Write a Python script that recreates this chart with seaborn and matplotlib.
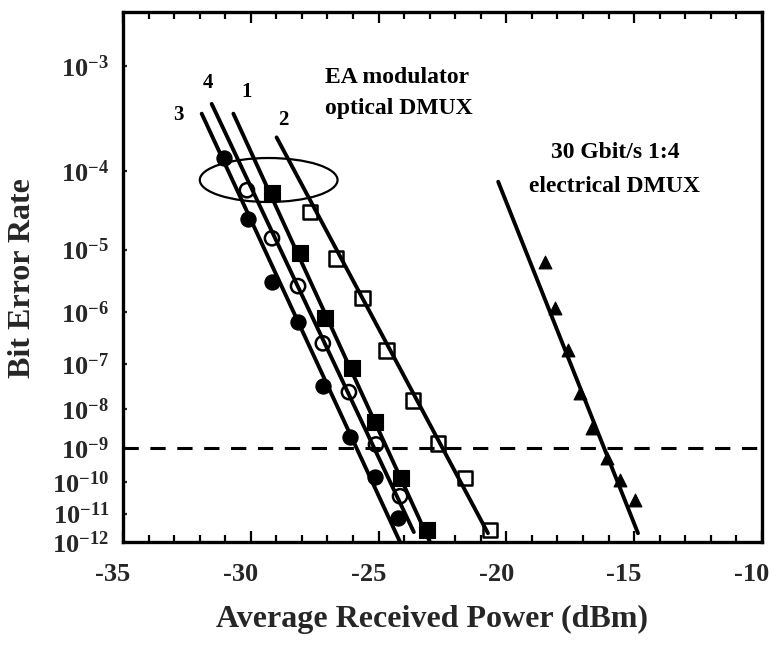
import numpy as np
import pandas as pd
import matplotlib
matplotlib.use("Agg")
import matplotlib.pyplot as plt
import matplotlib.transforms as mtransforms
import seaborn as sns
from matplotlib.patches import Ellipse
from matplotlib.ticker import FixedLocator, MultipleLocator, NullLocator

# ---- data: received power (dBm) and BER exponent (BER = 10^-exp) ----
p3 = [-31.05, -30.11, -29.17, -28.15, -27.18, -26.12, -25.14, -24.24]
e3 = [3.85, 4.58, 5.50, 6.18, 7.48, 8.72, 9.84, 11.15]
p4 = [-30.15, -29.17, -28.15, -27.18, -26.16, -25.10, -24.16]
e4 = [4.22, 4.84, 5.56, 6.58, 7.61, 8.91, 10.43]
p1 = [-29.17, -28.08, -27.10, -26.04, -25.14, -24.12, -23.11]
e1 = [4.25, 5.05, 6.11, 7.09, 8.33, 9.87, 11.57]
p2 = [-27.68, -26.67, -25.62, -24.68, -23.65, -22.68, -21.62, -20.64]
e2 = [4.49, 5.13, 5.76, 6.72, 7.80, 8.88, 9.87, 11.57]
pe = [-18.49, -18.10, -17.59, -17.12, -16.65, -16.06, -15.56, -14.97]
ee = [5.19, 5.93, 6.72, 7.64, 8.49, 9.29, 9.93, 10.56]

# fitted straight lines (start / end)
f3_p, f3_e = [-31.92, -24.16], [3.41, 12.0]
f4_p, f4_e = [-31.53, -23.62], [3.32, 11.64]
f1_p, f1_e = [-30.68, -22.99], [3.41, 12.0]
f2_p, f2_e = [-28.99, -20.72], [3.64, 11.68]
fe_p, fe_e = [-20.32, -14.85], [4.12, 11.68]

ber_ticks = [3, 4, 5, 6, 7, 8, 9, 10, 11, 12]
x_ticks = [-35, -30, -25, -20, -15, -10]
ref_ber_exp = 9

sns.set_theme(style="white")
plt.rcParams['font.family'] = ['Liberation Serif', 'DejaVu Serif']
plt.rcParams['font.weight'] = 'bold'
plt.rcParams['mathtext.default'] = 'regular'
plt.rcParams['axes.unicode_minus'] = False

fig = plt.figure(figsize=(7.73, 6.45), dpi=100)
ax = fig.add_axes([0.1591, 0.1597, 0.8266, 0.8217])


def _fwd(b):
    b = np.asarray(b, dtype=float)
    with np.errstate(all='ignore'):
        n = -np.log10(np.clip(b, 1e-300, 10 ** -0.6))
        return -np.log10(n - 0.5)


def _inv(t):
    t = np.asarray(t, dtype=float)
    with np.errstate(all='ignore'):
        return 10.0 ** (-(10.0 ** (-t) + 0.5))


def frame(p, e):
    return pd.DataFrame({'power': p, 'ber': 10.0 ** (-np.asarray(e, float))})


# fit lines
for fp, fe in [(f3_p, f3_e), (f4_p, f4_e), (f1_p, f1_e), (f2_p, f2_e), (fe_p, fe_e)]:
    sns.lineplot(data=frame(fp, fe), x='power', y='ber', color='black', lw=2.8,
                 estimator=None, sort=False, ax=ax, zorder=2)

# markers
specs = [
    (p3, e3, 'o', 'black', 120, 0.8),
    (p4, e4, 'o', 'none', 105, 1.8),
    (p1, e1, 's', 'black', 120, 0.8),
    (p2, e2, 's', 'none', 110, 1.8),
    (pe, ee, '^', 'black', 85, 0.8),
]
for p, e, m, fc, s, lw in specs:
    sns.scatterplot(data=frame(p, e), x='power', y='ber', marker=m, s=s,
                    color='black', facecolors=fc, edgecolor='black',
                    linewidth=lw, ax=ax, legend=False, zorder=3)

ax.axhline(10.0 ** -ref_ber_exp, color='black', lw=2.2, ls=(0, (5, 3.8)), zorder=1)

ax.set_yscale('function', functions=(_fwd, _inv))
ax.set_ylim(1e-12, 10 ** -2.60)
ax.set_xlim(-35, -10)

ax.yaxis.set_major_locator(FixedLocator([10.0 ** -k for k in ber_ticks]))
ax.yaxis.set_minor_locator(NullLocator())
ax.set_yticklabels([r'$\mathregular{10^{-%d}}$' % k for k in ber_ticks])
ax.xaxis.set_major_locator(FixedLocator(x_ticks))
ax.xaxis.set_minor_locator(MultipleLocator(1))
ax.set_xticklabels([str(v) for v in x_ticks])

ax.tick_params(axis='x', which='both', direction='in', top=True, bottom=True,
               width=1.6, color='black', labelsize=19, pad=15)
ax.tick_params(axis='x', which='major', length=8)
ax.tick_params(axis='x', which='minor', length=5)
ax.tick_params(axis='y', which='major', direction='in', left=True, right=False,
               length=3, width=1.6, labelsize=19, pad=10)

shift = mtransforms.ScaledTranslation(-10 / 100.0, 0, fig.dpi_scale_trans)
for lab in ax.get_xticklabels():
    lab.set_fontweight('bold')
    lab.set_transform(lab.get_transform() + shift)
for lab in ax.get_yticklabels():
    lab.set_fontweight('bold')

for sp in ax.spines.values():
    sp.set_color('black')
    sp.set_linewidth(2.4)

ax.set_xlabel('Average Received Power (dBm)', fontsize=23, fontweight='bold')
ax.set_ylabel('Bit Error Rate', fontsize=23, fontweight='bold')
ax.xaxis.set_label_coords(0.483, -0.118)
ax.yaxis.set_label_coords(-0.135, 0.498)

ax.add_patch(Ellipse((0.228, 0.683), 0.2156, 0.083, transform=ax.transAxes,
                     fill=False, lw=1.6, edgecolor='black', zorder=4))

tk = dict(transform=ax.transAxes, ha='center', va='baseline', color='black',
          fontweight='bold')
ax.text(0.4297, 0.866, 'EA modulator', fontsize=17, **tk)
ax.text(0.431, 0.8075, 'optical DMUX', fontsize=17, **tk)
ax.text(0.770, 0.724, '30 Gbit/s 1:4', fontsize=17, **tk)
ax.text(0.769, 0.661, 'electrical DMUX', fontsize=17, **tk)
ax.text(0.0864, 0.796, '3', fontsize=15, **tk)
ax.text(0.1333, 0.856, '4', fontsize=15, **tk)
ax.text(0.1933, 0.840, '1', fontsize=15, **tk)
ax.text(0.2505, 0.787, '2', fontsize=15, **tk)

fig.savefig('out.png', dpi=100)
